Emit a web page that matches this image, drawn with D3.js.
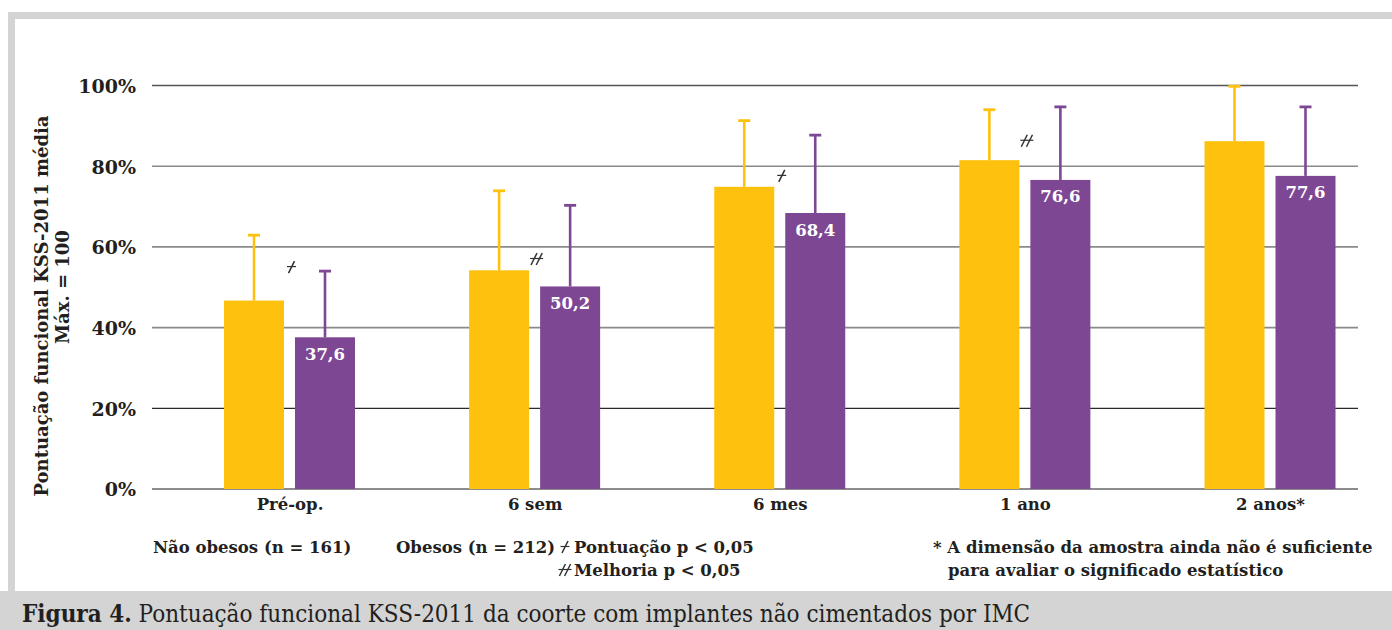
<!DOCTYPE html>
<html>
<head>
<meta charset="utf-8">
<script src="https://cdn.jsdelivr.net/npm/d3@7"></script>
<style>
  body { margin: 0; background: #fff; }
  svg { display: block; }
</style>
</head>
<body>
<svg id="chart" width="1392" height="630"></svg>
<script>
// Time points and mean KSS-2011 functional scores (% of max = 100)
const categories = ["Pré-op.", "6 sem", "6 mes", "1 ano", "2 anos*"];
const seriesNames = ["Não obesos", "Obesos"];
const naoObesos = [46.7, 54.2, 74.9, 81.5, 86.2];
const naoObesosUpper = [62.9, 73.9, 91.3, 94.0, 99.8];
const obesos = [37.6, 50.2, 68.4, 76.6, 77.6];
const obesosUpper = [54.0, 70.3, 87.7, 94.7, 94.7];
const yTicks = [0, 20, 40, 60, 80, 100];
// significance markers: 1 = score p < 0.05, 2 = improvement p < 0.05
const markerCats = ["Pré-op.", "6 sem", "6 mes", "1 ano"];
const markerTypes = [1, 2, 1, 2];
const markerLevels = [55, 57, 77.6, 86.3];

const colors = { "Não obesos": "#FDC10E", "Obesos": "#7E4794" };
const serif = "'DejaVu Serif', serif";
const serifCond = "'DejaVu Serif Condensed', 'DejaVu Serif', serif";
const ink = "#231f20";

const svg = d3.select("#chart");

// frame
const frame = "#d3d4d3";
svg.append("rect").attr("x", 8).attr("y", 12).attr("width", 1384).attr("height", 7).attr("fill", frame);
svg.append("rect").attr("x", 8).attr("y", 12).attr("width", 7).attr("height", 580).attr("fill", frame);
svg.append("rect").attr("x", 0).attr("y", 591).attr("width", 1392).attr("height", 39).attr("fill", frame);

const plot = { left: 152, right: 1358 };
const y = d3.scaleLinear().domain([0, 100]).range([489, 85.5]);
const x0 = d3.scalePoint().domain(categories).range([289.5, 1270]);
const x1 = d3.scaleBand().domain(seriesNames).range([-65.5, 65.5]).paddingInner(11 / 71);

// gridlines
const gridStyle = { 0: ["#8c8c8c", 2], 20: ["#2a2a2a", 1.2], 100: ["#555", 1.6] };
svg.append("g").selectAll("line").data(yTicks).join("line")
  .attr("x1", plot.left).attr("x2", plot.right)
  .attr("y1", d => y(d)).attr("y2", d => y(d))
  .attr("stroke", d => (gridStyle[d] || ["#8a8a8a", 1.6])[0])
  .attr("stroke-width", d => (gridStyle[d] || ["#8a8a8a", 1.6])[1]);

// y axis labels
const yAxis = d3.axisLeft(y).tickValues(yTicks).tickSize(0).tickPadding(0).tickFormat(d => d + "%");
const gy = svg.append("g").attr("transform", "translate(136,0)").call(yAxis);
gy.select(".domain").remove();
gy.selectAll("text").attr("font-family", serif).attr("font-weight", "bold")
  .attr("font-size", 19).attr("fill", ink).attr("dy", "0.36em");

// y axis title
const yt = svg.append("g").attr("font-family", serif).attr("font-weight", "bold")
  .attr("font-size", 18).attr("fill", ink).attr("text-anchor", "middle");
yt.append("text").attr("transform", "translate(48,306) rotate(-90)")
  .text("Pontuação funcional KSS-2011 média");
yt.append("text").attr("transform", "translate(69,287) rotate(-90)")
  .text("Máx. = 100");

// bars with error whiskers
const rows = categories.map((c, i) => ({
  cat: c,
  bars: [
    { s: "Não obesos", v: naoObesos[i], up: naoObesosUpper[i] },
    { s: "Obesos", v: obesos[i], up: obesosUpper[i] }
  ]
}));
const groups = svg.append("g").selectAll("g").data(rows).join("g")
  .attr("transform", d => `translate(${x0(d.cat)},0)`);
const bar = groups.selectAll("g").data(d => d.bars).join("g");
bar.append("line")
  .attr("x1", d => x1(d.s) + x1.bandwidth() / 2).attr("x2", d => x1(d.s) + x1.bandwidth() / 2)
  .attr("y1", d => y(d.v)).attr("y2", d => y(d.up))
  .attr("stroke", d => colors[d.s]).attr("stroke-width", 2.6);
bar.append("line")
  .attr("x1", d => x1(d.s) + x1.bandwidth() / 2 - 6).attr("x2", d => x1(d.s) + x1.bandwidth() / 2 + 6)
  .attr("y1", d => y(d.up)).attr("y2", d => y(d.up))
  .attr("stroke", d => colors[d.s]).attr("stroke-width", 2.8);
bar.append("rect")
  .attr("x", d => x1(d.s)).attr("width", x1.bandwidth())
  .attr("y", d => y(d.v)).attr("height", d => y(0) - y(d.v))
  .attr("fill", d => colors[d.s]);
bar.filter(d => d.s === "Obesos").append("text")
  .attr("x", d => x1(d.s) + x1.bandwidth() / 2).attr("y", d => y(d.v) + 22.5)
  .attr("text-anchor", "middle").attr("font-family", serif).attr("font-weight", "bold")
  .attr("font-size", 16.5).attr("fill", "#fff")
  .text(d => d3.format(".1f")(d.v).replace(".", ","));

// category labels
const xAxis = d3.axisBottom(x0).tickSize(0).tickPadding(0);
const gx = svg.append("g").attr("transform", "translate(0,510)").call(xAxis);
gx.select(".domain").remove();
gx.selectAll("text").attr("font-family", serif).attr("font-weight", "bold")
  .attr("font-size", 16.5).attr("fill", ink).attr("dy", 0);

// significance glyph: n slashes crossed by one bar
function glyph(g, n) {
  const off = n === 1 ? [0] : [-2.6, 2.6];
  off.forEach(o => g.append("line").attr("x1", o - 3).attr("y1", 6).attr("x2", o + 3).attr("y2", -6)
    .attr("stroke", "#333").attr("stroke-width", 1.5));
  g.append("line").attr("x1", n === 1 ? -4.5 : -6.5).attr("x2", n === 1 ? 4.5 : 6.5)
    .attr("y1", -0.5).attr("y2", -0.5).attr("stroke", "#333").attr("stroke-width", 1.2);
}
markerCats.forEach((c, i) => {
  const g = svg.append("g").attr("transform", `translate(${x0(c) + 2},${y(markerLevels[i])})`);
  glyph(g, markerTypes[i]);
});

// legend and notes
const lg = svg.append("g").attr("font-family", serif).attr("font-weight", "bold")
  .attr("font-size", 16.5).attr("fill", ink);
lg.append("text").attr("x", 153).attr("y", 553).text(seriesNames[0] + " (n = 161)");
lg.append("text").attr("x", 396).attr("y", 553).text(seriesNames[1] + " (n = 212)");
glyph(lg.append("g").attr("transform", "translate(565,547)"), 1);
lg.append("text").attr("x", 574).attr("y", 553).text("Pontuação p < 0,05");
glyph(lg.append("g").attr("transform", "translate(565,570)"), 2);
lg.append("text").attr("x", 574).attr("y", 576).text("Melhoria p < 0,05");
lg.append("text").attr("x", 933).attr("y", 553).text("* A dimensão da amostra ainda não é suficiente");
lg.append("text").attr("x", 948).attr("y", 576).text("para avaliar o significado estatístico");

// caption
const cap = svg.append("text").attr("x", 22).attr("y", 622)
  .attr("font-family", serifCond).attr("font-size", 24).attr("fill", ink);
cap.append("tspan").attr("font-weight", "bold").text("Figura 4.");
cap.append("tspan").text(" Pontuação funcional KSS-2011 da coorte com implantes não cimentados por IMC");
</script>
</body>
</html>
